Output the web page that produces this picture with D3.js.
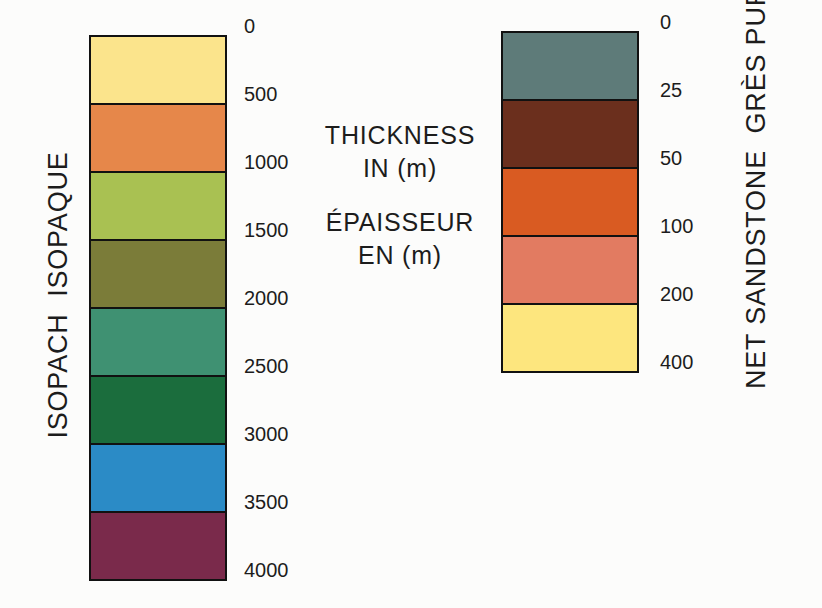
<!DOCTYPE html>
<html>
<head>
<meta charset="utf-8">
<script src="https://cdn.jsdelivr.net/npm/d3@7"></script>
<style>
  body { margin: 0; background: #fcfcfb; }
  svg { display: block; }
  text { font-family: "Liberation Sans", Arial, sans-serif; fill: #1c1c1c; }
  .axis path, .axis line { display: none; }
</style>
</head>
<body>
<script>
// Isopach classes (m)
var isoLabels = ["0", "500", "1000", "1500", "2000", "2500", "3000", "3500", "4000"];
var isoColors = ["#fbe48c", "#e6874a", "#a9c152", "#7b7c39", "#3f9172", "#1b6d3d", "#2b8bc6", "#7a2a4b"];

// Net sandstone classes (m)
var sandLabels = ["0", "25", "50", "100", "200", "400"];
var sandColors = ["#5e7b79", "#6b2f1d", "#d95b22", "#e27b61", "#fde67e"];

var width = 822, height = 608;

var svg = d3.select("body")
    .append("svg")
        .attr("width", width)
        .attr("height", height);

// draw one column of colour boxes plus its labels
function drawColumn(x, w, top, bottom, colors, labels, pad) {
    var n = colors.length;
    var yScale = d3.scaleLinear().domain([0, n]).range([top, bottom]);
    var g = svg.append("g");

    g.selectAll("rect")
        .data(colors)
        .enter().append("rect")
        .attr("x", x)
        .attr("y", function (d, i) { return yScale(i); })
        .attr("width", w)
        .attr("height", function (d, i) { return yScale(i + 1) - yScale(i); })
        .attr("fill", function (d) { return d; })
        .attr("stroke", "#111")
        .attr("stroke-width", 2);

    var axis = d3.axisRight(yScale)
        .tickValues(d3.range(labels.length))
        .tickFormat(function (d) { return labels[d]; })
        .tickSize(0)
        .tickPadding(0);

    g.append("g")
        .attr("class", "axis")
        .attr("transform", "translate(" + (x + w + pad) + ",0)")
        .call(axis)
        .selectAll("text")
        .attr("dy", "-0.2em")
        .style("font-size", "20px")
        .style("font-family", "'Liberation Sans', Arial, sans-serif")
        .style("fill", "#1c1c1c");
}

drawColumn(90, 136, 36, 580, isoColors, isoLabels, 18);
drawColumn(502, 136, 32, 372, sandColors, sandLabels, 22);

// centre titles
var centre = [
    {t: "THICKNESS", y: 144},
    {t: "IN (m)", y: 177},
    {t: "ÉPAISSEUR", y: 231},
    {t: "EN (m)", y: 264}
];
svg.selectAll(".ctitle")
    .data(centre)
    .enter().append("text")
    .attr("class", "ctitle")
    .attr("x", 400)
    .attr("y", function (d) { return d.y; })
    .attr("text-anchor", "middle")
    .style("font-size", "25px")
    .style("letter-spacing", "0.8px")
    .text(function (d) { return d.t; });

// rotated side titles
svg.append("text")
    .attr("transform", "translate(67,295) rotate(-90)")
    .attr("text-anchor", "middle")
    .style("font-size", "27px")
    .style("letter-spacing", "0.8px")
    .text("ISOPACH\u00a0\u00a0ISOPAQUE");

svg.append("text")
    .attr("transform", "translate(765,389) rotate(-90)")
    .attr("text-anchor", "start")
    .style("font-size", "27px")
    .style("letter-spacing", "0.8px")
    .text("NET SANDSTONE\u00a0\u00a0GRÈS PUR");
</script>
</body>
</html>
